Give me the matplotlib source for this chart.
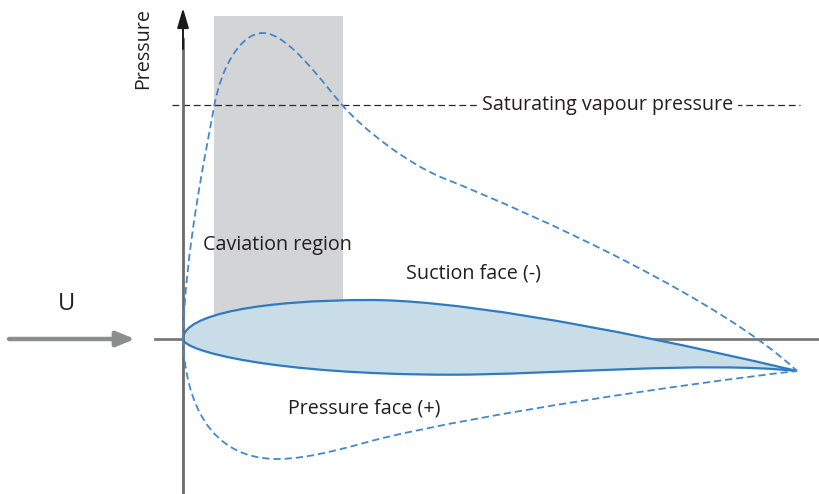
import matplotlib
matplotlib.use("Agg")
import matplotlib.pyplot as plt
from matplotlib.patches import Rectangle, PathPatch
from matplotlib.path import Path

# Curves are stored as cubic Bezier control points (anchor, handle, handle, anchor, ...)
# x: chord-wise position from the leading edge, y: pressure / section thickness
suction_x = [0, 2, 24, 31, 38, 58, 80, 105, 140, 160, 180, 225, 260, 360, 540, 614]
suction_y = [0, 90, 192, 232, 272, 306, 306, 306, 256, 233, 210, 175, 161, 121, 38, -32]

pressure_x = [0, 2, 25, 94, 130, 175, 200, 300, 500, 614]
pressure_y = [0, -60, -120, -120, -120, -105, -99, -75, -45, -32]

upper_x = [0, 0, 80, 187, 260, 400, 614]
upper_y = [0, 25, 39, 39, 39, 18.5, -32]
lower_x = [0, 0, 90, 267, 370, 520, 614]
lower_y = [0, -12, -35.5, -35.7, -35.7, -22, -32]

cavitation_x = [31, 160]      # extent of the shaded cavitation band
vapour_pressure = 234
pressure_top = 323


def bezier_path(xs, ys):
    codes = [Path.MOVETO] + [Path.CURVE4] * (len(xs) - 1)
    return Path(list(zip(xs, ys)), codes)


fig = plt.figure(figsize=(8.2, 4.94), dpi=100)
ax = fig.add_axes([0, 0, 1, 1])
ax.set_xlim(-183, 637)
ax.set_ylim(-155, 339)
ax.axis("off")

font = ["Open Sans", "DejaVu Sans"]
txt = "#231f20"
blue = "#4189cc"
fs = 14.2

# Cavitation band
ax.add_patch(Rectangle((cavitation_x[0], 0), cavitation_x[1] - cavitation_x[0],
                       pressure_top, facecolor="#d3d4d6", edgecolor="none", zorder=1))

# Chord / free-stream reference line
ax.plot([-28, 637], [0, 0], color="#7a7a7a", lw=2.0, zorder=2)

# Pressure axis with arrow head
ax.plot([0, 0], [-160, 300], color="#6a6a6a", lw=2.0, zorder=5)
ax.annotate("", xy=(0, 331), xytext=(0, 290),
            arrowprops=dict(arrowstyle="-|>,head_length=1.2,head_width=0.35",
                            color="#1a1a1a", lw=1.4, shrinkA=0, shrinkB=0), zorder=6)

# Free-stream arrow
ax.annotate("", xy=(-48, 0), xytext=(-174, 0),
            arrowprops=dict(arrowstyle="-|>,head_length=1.1,head_width=0.45",
                            color="#8c8e8e", lw=3.2, shrinkA=0, shrinkB=0), zorder=3)
ax.text(-116, 35, "U", fontsize=17, color=txt, family=font, ha="center", va="center")

# Airfoil section: upper surface out to the trailing edge, lower surface back
outline_x = upper_x + lower_x[::-1][1:]
outline_y = upper_y + lower_y[::-1][1:]
ax.add_patch(PathPatch(bezier_path(outline_x, outline_y),
                       facecolor="#c9dde8", edgecolor="#2f7bc1", lw=1.6, zorder=4))

# Saturating vapour pressure level
ax.plot([-11, 617], [vapour_pressure, vapour_pressure], color="#2a2a2a", lw=0.9,
        dashes=(5.5, 3), zorder=3)
ax.text(425, vapour_pressure, "Saturating vapour pressure", fontsize=fs, color=txt,
        family=font, ha="center", va="center", zorder=7,
        bbox=dict(facecolor="white", edgecolor="none", pad=3))

# Pressure distributions on both faces
for xs, ys in ((suction_x, suction_y), (pressure_x, pressure_y)):
    ax.add_patch(PathPatch(bezier_path(xs, ys), facecolor="none", edgecolor=blue,
                           lw=1.3, linestyle=(0, (4, 2.2)), zorder=6))

ax.text(-40, 290, "Pressure", fontsize=fs, color=txt, family=font, rotation=90,
        ha="center", va="center")
ax.text(94, 94, "Caviation region", fontsize=fs, color=txt, family=font,
        ha="center", va="center", zorder=7)
ax.text(291, 66, "Suction face (-)", fontsize=fs, color=txt, family=font,
        ha="center", va="center", zorder=7)
ax.text(181, -69, "Pressure face (+)", fontsize=fs, color=txt, family=font,
        ha="center", va="center", zorder=7)

fig.savefig("out.png", dpi=100, facecolor="white")
